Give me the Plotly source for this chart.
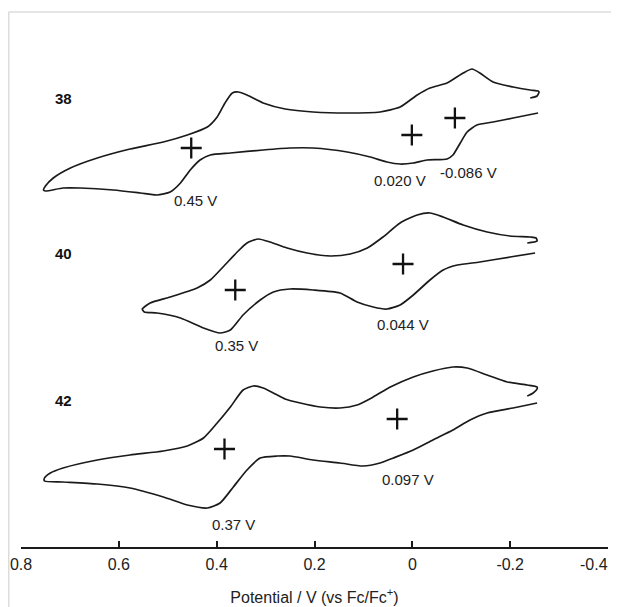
import plotly.graph_objects as go

# ---------------- data (potential in V vs Fc/Fc+, current in arbitrary units, stacked) -------------
e38 = [-0.241, -0.255, -0.259,
       -0.257, -0.241, -0.206, -0.165, -0.138, -0.122, -0.104, -0.071, -0.036, -0.010, 0.025, 0.066,
       0.133, 0.203, 0.260, 0.305, 0.338, 0.356, 0.368, 0.383, 0.399, 0.419, 0.460, 0.509, 0.577,
       0.644, 0.699, 0.734, 0.750, 0.754,
       0.750, 0.714, 0.679, 0.611, 0.556, 0.522, 0.495, 0.474, 0.454, 0.434, 0.413, 0.372, 0.305,
       0.250, 0.203, 0.133, 0.086, 0.052, 0.025, -0.002, -0.030, -0.071, -0.083, -0.098, -0.112,
       -0.132, -0.165, -0.206, -0.257]
i38 = [451, 453, 457,
       458, 459, 462, 467, 476, 480, 476, 466, 461, 454, 442, 437,
       436, 437, 440, 446, 454, 457, 456, 446, 432, 422, 414, 407, 400,
       391, 381, 371, 363, 359,
       358, 361, 361, 359, 356, 354, 357, 366, 379, 389, 394, 396, 399,
       401, 401, 397, 392, 387, 385, 386, 389, 390, 394, 406, 417,
       424, 427, 431, 436]

e40 = [-0.235, -0.255, -0.253,
       -0.241, -0.200, -0.153, -0.104, -0.063, -0.036, -0.010, 0.025, 0.060, 0.092, 0.127, 0.168,
       0.215, 0.256, 0.291, 0.315, 0.338, 0.358, 0.387, 0.413, 0.440, 0.495, 0.536, 0.552,
       0.548, 0.522, 0.474, 0.427, 0.393, 0.372, 0.346, 0.311, 0.284, 0.250, 0.203, 0.148, 0.113,
       0.080, 0.052, 0.025, -0.002, -0.036, -0.063, -0.092, -0.138, -0.200, -0.251]
i40 = [306, 308, 311,
       312, 313, 317, 324, 332, 336, 334, 326, 312, 301, 295, 293,
       296, 301, 307, 310, 306, 297, 282, 269, 261, 252, 246, 240,
       237, 236, 231, 221, 216, 219, 234, 249, 257, 260, 259, 256, 247,
       242, 240, 244, 254, 269, 279, 284, 287, 292, 296]

e42 = [-0.235, -0.247, -0.255,
       -0.255, -0.235, -0.194, -0.153, -0.112, -0.083, -0.042, -0.002, 0.045, 0.080, 0.113, 0.148,
       0.188, 0.229, 0.260, 0.276, 0.305, 0.325, 0.346, 0.372, 0.399, 0.427, 0.460, 0.509, 0.577,
       0.644, 0.714, 0.740, 0.752,
       0.752, 0.714, 0.644, 0.577, 0.509, 0.460, 0.419, 0.393, 0.366, 0.338, 0.311, 0.276, 0.250,
       0.203, 0.148, 0.101, 0.066, 0.039, -0.002, -0.042, -0.083, -0.118, -0.153, -0.206, -0.255]
i42 = [153, 156, 160,
       162, 164, 167, 174, 181, 182, 178, 172, 162, 152, 144, 141,
       142, 146, 150, 154, 161, 163, 159, 142, 126, 111, 103, 98, 94,
       89, 81, 76, 71,
       68, 67, 65, 61, 52, 44, 41, 46, 62, 79, 91, 93, 93,
       89, 86, 83, 86, 91, 99, 109, 119, 129, 136, 141, 146]

# half-wave potential markers (+)
plus_e = [0.452, 0.001, -0.087, 0.362, 0.019, 0.384, 0.031]
plus_i = [401, 414, 431, 259, 285, 100, 130]

# compound labels
cmpd_names = ["38", "40", "42"]
cmpd_e = [0.714, 0.714, 0.714]
cmpd_i = [451, 296, 149]

# peak potential labels
peak_text = ["0.45 V", "0.020 V", "-0.086 V", "0.35 V", "0.044 V", "0.37 V", "0.097 V"]
peak_e = [0.444, 0.025, -0.114, 0.360, 0.019, 0.366, 0.009]
peak_i = [349, 369, 377, 204, 225, 25, 70]

tick_vals = [0.8, 0.6, 0.4, 0.2, 0.0, -0.2, -0.4]
tick_text = ["0.8", "0.6", "0.4", "0.2", "0", "-0.2", "-0.4"]

FONT = "Liberation Sans, Arial, sans-serif"
TXT = "#222222"

fig = go.Figure()
for e, i in [(e38, i38), (e40, i40), (e42, i42)]:
    fig.add_trace(go.Scatter(x=e, y=i, mode="lines",
                             line=dict(color="#1a1a1a", width=1.7, shape="spline", smoothing=0.6),
                             hoverinfo="skip", showlegend=False))

fig.add_trace(go.Scatter(x=plus_e, y=plus_i, mode="markers",
                         marker=dict(symbol="cross-thin", size=15,
                                     line=dict(color="#111111", width=2.3)),
                         hoverinfo="skip", showlegend=False))

for t, e, i in zip(cmpd_names, cmpd_e, cmpd_i):
    fig.add_annotation(x=e, y=i, text="<b>" + t + "</b>", showarrow=False,
                       font=dict(family=FONT, size=15, color="#111111"))
for t, e, i in zip(peak_text, peak_e, peak_i):
    fig.add_annotation(x=e, y=i, text=t, showarrow=False,
                       font=dict(family=FONT, size=15, color=TXT))

# the last tick label sits against the page edge in the original; draw it shifted inward
shown_ticktext = tick_text[:-1] + [" "]
fig.add_annotation(x=tick_vals[-1], xref="x", y=0, yref="paper", yanchor="top",
                   xanchor="right", xshift=2, yshift=-7, text=tick_text[-1], showarrow=False,
                   font=dict(family=FONT, size=16, color=TXT))

# light frame of the original image
fig.add_shape(type="line", xref="paper", yref="paper", x0=-0.0209, x1=1.03, y0=1.0, y1=1.0,
              line=dict(color="#dcdcdc", width=1.5))
fig.add_shape(type="line", xref="paper", yref="paper", x0=-0.0209, x1=-0.0209, y0=1.0, y1=-0.13,
              line=dict(color="#dcdcdc", width=1.5))

# the page body has an 8 px margin, so the figure is sized/margined to compensate
fig.update_layout(
    width=611, height=599,
    margin=dict(l=13, r=11, t=4, b=60, autoexpand=False),
    paper_bgcolor="white", plot_bgcolor="white",
    font=dict(family=FONT, size=16, color=TXT),
    xaxis=dict(range=[0.8, -0.4], tickvals=tick_vals, ticktext=shown_ticktext,
               showline=True, linecolor="#1a1a1a", linewidth=1.6,
               ticks="inside", ticklen=6, tickwidth=1.6, tickcolor="#1a1a1a",
               showgrid=False, zeroline=False, ticklabelstandoff=2, automargin=False,
               tickfont=dict(family=FONT, size=16, color=TXT),
               title=dict(text="Potential / V (vs Fc/Fc<sup>+</sup>)",
                          font=dict(family=FONT, size=16, color=TXT), standoff=20)),
    yaxis=dict(range=[2, 537], visible=False, showgrid=False, zeroline=False, automargin=False),
)

fig.write_html("out.html")
